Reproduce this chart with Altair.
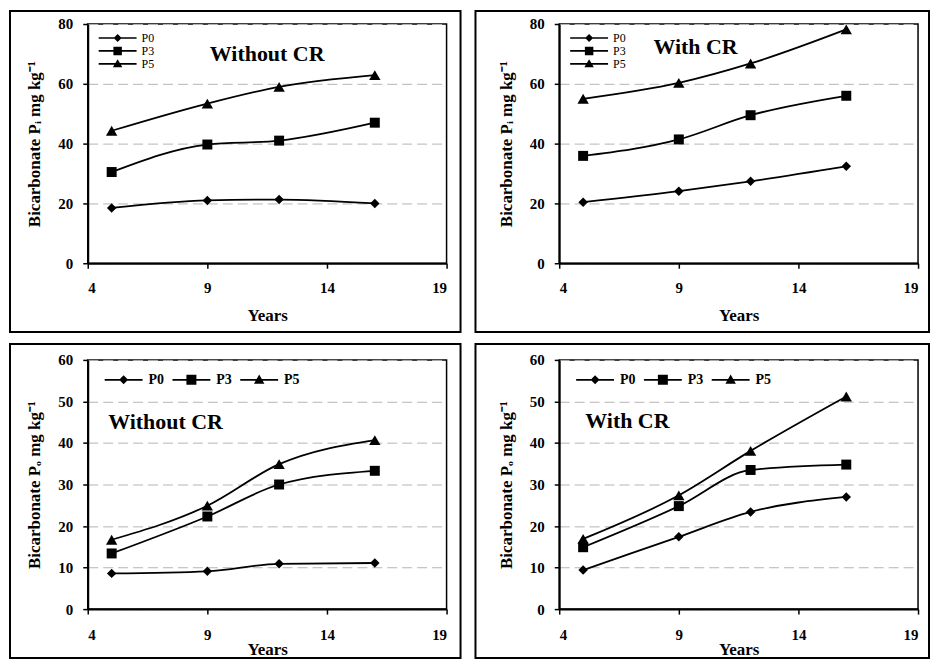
import altair as alt
import pandas as pd

# ---------------- data ----------------
years = [5, 9, 12, 16]
series = ["P0", "P3", "P5"]

pi_without_p0 = [18.5, 21.0, 21.3, 20.0]
pi_without_p3 = [30.5, 39.7, 41.0, 47.0]
pi_without_p5 = [44.3, 53.4, 59.0, 62.9]

pi_with_p0 = [20.4, 24.1, 27.4, 32.4]
pi_with_p3 = [35.9, 41.4, 49.5, 56.0]
pi_with_p5 = [55.0, 60.3, 66.8, 78.2]

po_without_p0 = [8.6, 9.1, 10.9, 11.1]
po_without_p3 = [13.4, 22.3, 30.0, 33.3]
po_without_p5 = [16.7, 24.9, 34.9, 40.7]

po_with_p0 = [9.4, 17.4, 23.4, 27.0]
po_with_p3 = [14.9, 24.8, 33.5, 34.8]
po_with_p5 = [16.9, 27.4, 38.1, 51.2]

x_ticks = [4, 9, 14, 19]
pi_ticks = [0, 20, 40, 60, 80]
po_ticks = [0, 10, 20, 30, 40, 50, 60]

panel_titles = ["Without CR", "With CR", "Without CR", "With CR"]
title_years = [11.5, 9.7, 7.25, 6.85]
title_values = [70.0, 72.3, 45.0, 45.3]
pi_axis_title = "Bicarbonate P\u1d62 mg kg\u207b\u00b9"
po_axis_title = "Bicarbonate P\u2092 mg kg\u207b\u00b9"
x_title = "Years"

FONT = "Liberation Serif"
MARKERS = {"P0": ("diamond", 90), "P3": ("square", 100), "P5": ("triangle-up", 130)}

# legend symbols: a thin bar (the line) plus the marker, size 100 -> 5 px per unit
TOP_PATHS = [
    "M-3.8,-0.16H3.8V0.16H-3.8ZM-0.8,0L0,-0.8L0.8,0L0,0.8Z",
    "M-3.8,-0.16H3.8V0.16H-3.8ZM-0.85,-0.85H0.85V0.85H-0.85Z",
    "M-3.8,-0.16H3.8V0.16H-3.8ZM0,-0.95L0.95,0.7H-0.95Z",
]
BOT_PATHS = [
    "M-3.8,-0.16H3.8V0.16H-3.8ZM-0.9,0L0,-0.9L0.9,0L0,0.9Z",
    "M-3.8,-0.16H3.8V0.16H-3.8ZM-1,-1H1V1H-1Z",
    "M-3.8,-0.16H3.8V0.16H-3.8ZM0,-1.05L1.05,0.8H-1.05Z",
]


def panel(p0, p3, p5, ticks, ytitle, idx, w, h, box, top):
    df = pd.DataFrame({
        "Years": years * 3,
        "Value": p0 + p3 + p5,
        "Series": [s for s in series for _ in years],
    })
    x = alt.X("Years:Q",
              scale=alt.Scale(domain=[4, 19], nice=False, zero=False),
              axis=alt.Axis(values=x_ticks, title=x_title,
                            labelPadding=12 if top else 13,
                            titlePadding=12 if top else 0))
    y = alt.Y("Value:Q",
              scale=alt.Scale(domain=[ticks[0], ticks[-1]], nice=False),
              axis=alt.Axis(values=ticks, title=ytitle, grid=True))
    base = alt.Chart(df)

    rect = alt.Chart(pd.DataFrame({"k": [0]})).mark_rect(
        fill="white", fillOpacity=0, stroke="black", strokeWidth=2
    ).encode(x=alt.value(-box[0]), x2=alt.value(w + box[1]),
             y=alt.value(-box[2]), y2=alt.value(h + box[3]))

    lines = base.mark_line(color="black", strokeWidth=1.8,
                           interpolate="monotone").encode(
        x=x, y=y, detail="Series:N")

    pts = []
    for s in series:
        shp, sz = MARKERS[s]
        pts.append(base.transform_filter(alt.datum.Series == s).mark_point(
            shape=shp, size=sz, filled=True, color="black", opacity=1
        ).encode(x=x, y=y))

    if top:
        leg = alt.Legend(title=None, orient="none", legendX=24, legendY=8,
                         direction="vertical", padding=0, rowPadding=1,
                         labelOffset=18, labelFont=FONT, labelFontSize=12,
                         labelColor="black", symbolSize=100,
                         symbolStrokeWidth=0, symbolFillColor="black",
                         symbolOpacity=1)
        paths = TOP_PATHS
    else:
        leg = alt.Legend(title=None, orient="none", legendX=29, legendY=13,
                         direction="horizontal", padding=0, columnPadding=8,
                         labelOffset=18, labelFont=FONT, labelFontSize=14,
                         labelFontWeight="bold",
                         labelColor="black", symbolSize=100,
                         symbolStrokeWidth=0, symbolFillColor="black",
                         symbolOpacity=1)
        paths = BOT_PATHS

    legend_layer = base.mark_point(filled=True, opacity=0, size=100,
                                   color="black").encode(
        x=x, y=y,
        shape=alt.Shape("Series:N",
                        scale=alt.Scale(domain=series, range=paths),
                        legend=leg))

    tdf = pd.DataFrame({"Years": [title_years[idx]],
                        "Value": [title_values[idx]],
                        "label": [panel_titles[idx]]})
    text = alt.Chart(tdf).mark_text(font=FONT, fontSize=22, fontWeight="bold",
                                    align="center", baseline="middle",
                                    color="black").encode(
        x=x, y=y, text="label:N")

    return alt.layer(rect, lines, *pts, legend_layer, text).properties(
        width=w, height=h)


# box margins around the plot area: left, right, top, bottom
TL_BOX = (78, 14, 13, 69)
TR_BOX = (84, 11, 13, 69)
BL_BOX = (78, 14, 16, 49)
BR_BOX = (84, 11, 16, 49)

tl = panel(pi_without_p0, pi_without_p3, pi_without_p5, pi_ticks,
           pi_axis_title, 0, 360, 240, TL_BOX, True)
tr = panel(pi_with_p0, pi_with_p3, pi_with_p5, pi_ticks,
           pi_axis_title, 1, 360, 240, TR_BOX, True)
bl = panel(po_without_p0, po_without_p3, po_without_p5, po_ticks,
           po_axis_title, 2, 360, 250, BL_BOX, False)
br = panel(po_with_p0, po_with_p3, po_with_p5, po_ticks,
           po_axis_title, 3, 360, 250, BR_BOX, False)

row1 = alt.hconcat(tl, tr, spacing=11).resolve_scale(
    x="independent", y="independent", shape="independent"
).resolve_legend(shape="independent")
row2 = alt.hconcat(bl, br, spacing=11).resolve_scale(
    x="independent", y="independent", shape="independent"
).resolve_legend(shape="independent")

chart = alt.vconcat(row1, row2, spacing=8).resolve_scale(
    x="independent", y="independent", shape="independent"
).resolve_legend(shape="independent").properties(
    padding=0, background="white"
).configure_view(
    stroke="black", strokeWidth=1.5
).configure_axis(
    domainColor="black", domainWidth=2, tickColor="black", tickSize=5,
    tickWidth=1.5, labelColor="black", labelFont=FONT, labelFontSize=15,
    labelFontWeight="bold", titleColor="black", titleFont=FONT,
    titleFontSize=17, titleFontWeight="bold", gridColor="#b5b5b5",
    gridDash=[10, 5], gridWidth=1
).configure_axisY(
    labelPadding=10, titlePadding=14
).configure_axisX(
    grid=False
)

chart.save("out.html", embed_options={"renderer": "svg", "actions": False})
